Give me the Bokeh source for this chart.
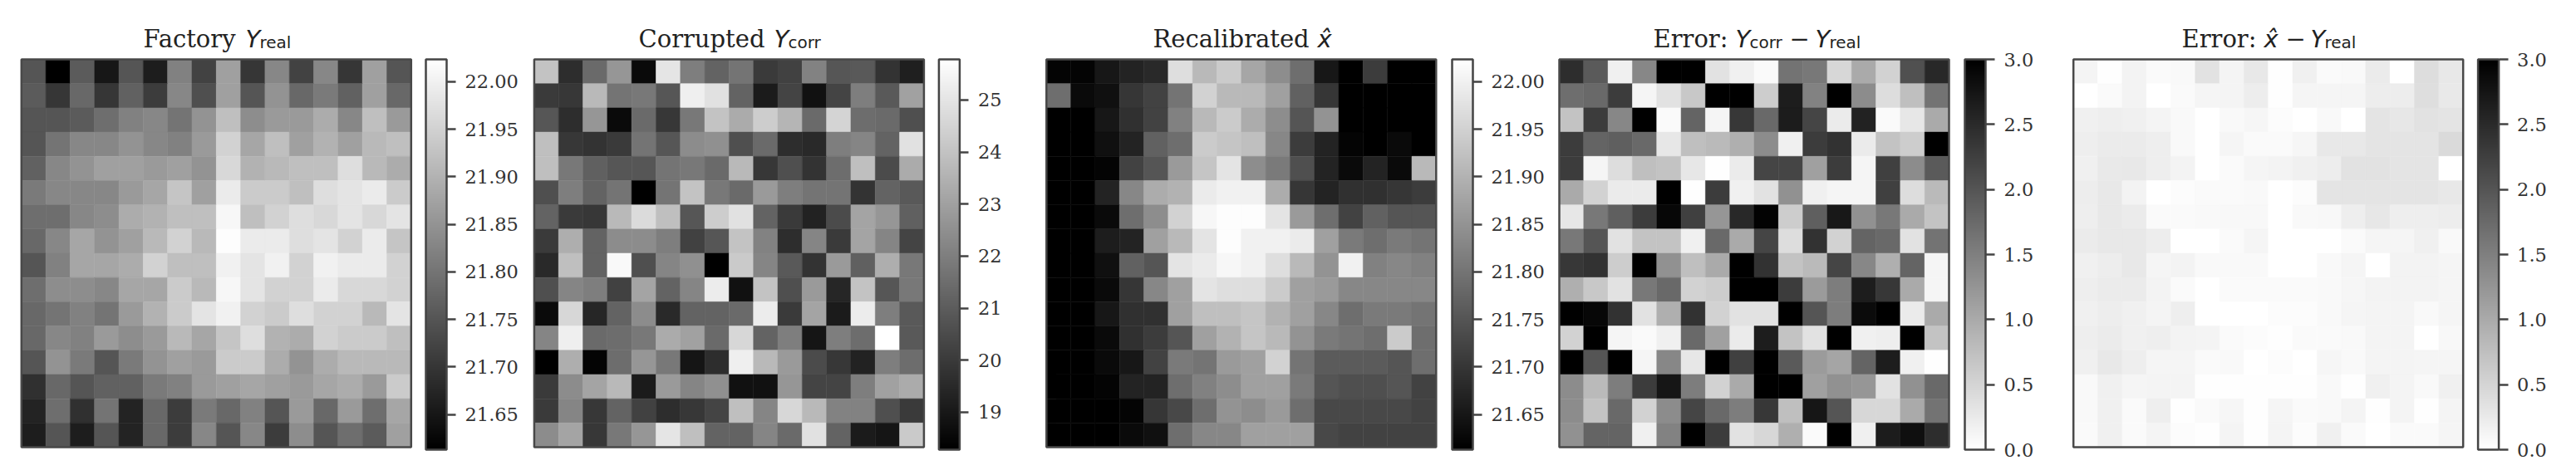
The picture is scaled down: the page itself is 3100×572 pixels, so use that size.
from bokeh.plotting import figure
from bokeh.layouts import row
from bokeh.models import ColorBar, LinearColorMapper, FixedTicker, PrintfTickFormatter, Label, Range1d, ColumnDataSource
from bokeh.palettes import Greys256
from bokeh.embed import file_html
from bokeh.resources import INLINE

factory_real = [
[21.75,21.61,21.76,21.65,21.75,21.66,21.82,21.72,21.87,21.70,21.83,21.72,21.83,21.70,21.87,21.75],
[21.76,21.70,21.78,21.70,21.77,21.71,21.83,21.74,21.87,21.75,21.85,21.78,21.81,21.77,21.87,21.78],
[21.75,21.75,21.76,21.79,21.82,21.83,21.80,21.85,21.92,21.84,21.86,21.86,21.89,21.83,21.92,21.86],
[21.75,21.80,21.83,21.83,21.85,21.83,21.82,21.86,21.95,21.88,21.92,21.87,21.90,21.87,21.91,21.92],
[21.77,21.83,21.85,21.87,21.87,21.86,21.87,21.85,21.96,21.90,21.91,21.92,21.92,21.97,21.91,21.89],
[21.81,21.83,21.83,21.83,21.86,21.88,21.93,21.87,21.99,21.94,21.94,21.92,21.97,21.98,21.99,21.94],
[21.79,21.79,21.83,21.84,21.89,21.90,21.92,21.92,22.01,21.92,21.95,21.97,21.96,21.98,21.96,21.98],
[21.78,21.83,21.88,21.85,21.87,21.91,21.95,21.91,22.02,21.99,21.99,21.97,21.98,21.95,21.99,21.93],
[21.75,21.82,21.88,21.88,21.89,21.95,21.92,21.92,22.00,21.98,22.00,21.95,22.00,21.99,21.99,21.95],
[21.79,21.84,21.84,21.83,21.88,21.88,21.94,21.91,22.01,21.98,21.95,21.95,21.99,21.96,21.96,21.95],
[21.78,21.80,21.82,21.80,21.86,21.90,21.94,21.98,22.00,21.95,21.94,21.97,21.95,21.95,21.91,21.98],
[21.78,21.83,21.82,21.86,21.84,21.86,21.91,21.88,21.93,21.97,21.90,21.89,21.95,21.94,21.94,21.92],
[21.75,21.85,21.81,21.75,21.81,21.85,21.87,21.86,21.94,21.94,21.89,21.85,21.89,21.91,21.91,21.91],
[21.69,21.78,21.75,21.77,21.77,21.81,21.82,21.86,21.87,21.88,21.87,21.86,21.88,21.89,21.86,21.94],
[21.67,21.79,21.69,21.80,21.67,21.78,21.71,21.81,21.78,21.82,21.75,21.86,21.78,21.86,21.79,21.88],
[21.66,21.75,21.66,21.75,21.67,21.78,21.71,21.83,21.75,21.83,21.71,21.84,21.75,21.79,21.76,21.87],
]
corrupted = [
[24.0,19.6,21.4,22.7,18.6,25.0,22.0,21.2,21.7,20.0,20.2,22.1,20.8,20.9,19.8,19.2],
[20.0,19.9,23.7,21.7,21.8,20.8,25.3,24.9,21.2,19.1,20.3,18.8,20.3,22.0,20.9,23.0],
[20.8,19.6,22.7,18.6,21.4,19.9,21.8,24.0,23.3,24.3,23.6,21.4,24.5,21.5,21.4,20.6],
[23.9,19.9,19.8,20.0,21.7,20.8,22.4,22.5,20.6,21.4,19.6,19.5,22.0,22.2,21.2,24.9],
[23.9,21.8,21.1,20.8,20.8,21.7,21.8,21.4,23.7,19.9,20.6,19.8,21.5,23.9,20.5,23.3],
[20.6,22.0,21.2,21.7,18.3,21.7,24.0,21.8,21.4,22.8,22.0,21.7,21.7,19.8,21.2,20.9],
[21.2,20.0,19.9,23.7,24.7,23.9,20.8,24.3,24.9,21.2,20.0,19.3,20.5,23.1,22.7,21.1],
[20.0,23.4,21.2,22.4,22.4,22.0,20.2,20.8,24.0,22.1,19.6,22.2,20.0,23.1,22.2,20.3],
[19.5,23.9,21.2,25.6,20.6,22.2,22.5,18.3,24.2,22.2,20.9,19.8,22.8,21.1,23.4,21.8],
[20.6,22.2,22.0,20.2,23.1,21.2,22.2,25.2,18.8,24.0,20.6,22.8,19.4,24.0,20.8,21.8],
[18.6,24.6,19.4,21.2,22.4,19.5,21.2,21.2,21.4,25.2,20.0,23.1,19.1,25.2,22.0,20.9],
[22.2,25.3,21.4,21.5,21.8,23.3,23.0,21.4,24.6,21.2,22.0,18.9,22.0,21.5,25.8,20.9],
[18.3,23.4,18.4,21.5,22.7,21.8,18.9,19.6,25.3,23.7,22.8,20.5,19.9,19.3,22.0,21.5],
[20.0,22.4,23.1,23.7,19.1,22.8,22.2,22.5,18.8,18.8,22.7,20.3,20.3,22.0,23.0,23.3],
[20.0,22.2,19.9,21.2,20.2,19.6,19.9,20.3,23.9,22.2,24.6,23.7,22.1,22.1,20.6,20.0],
[22.4,23.1,19.9,21.8,22.7,25.0,23.9,21.2,21.2,22.2,21.4,24.9,21.2,19.1,18.9,24.2],
]
recalibrated = [
[21.62,21.62,21.65,21.67,21.68,21.97,21.91,21.94,21.88,21.84,21.79,21.65,21.61,21.71,21.61,21.61],
[21.79,21.63,21.64,21.70,21.72,21.80,21.95,21.91,21.91,21.87,21.77,21.70,21.61,21.61,21.61,21.61],
[21.61,21.61,21.65,21.69,21.72,21.82,21.91,21.94,21.89,21.84,21.75,21.85,21.61,21.61,21.61,21.61],
[21.61,21.61,21.64,21.67,21.77,21.79,21.94,21.93,21.92,21.83,21.71,21.67,21.62,21.61,21.63,21.61],
[21.61,21.61,21.62,21.72,21.75,21.86,21.93,21.98,21.84,21.81,21.74,21.67,21.63,21.67,21.63,21.91],
[21.61,21.61,21.67,21.83,21.89,21.90,21.99,22.00,22.00,21.89,21.70,21.67,21.69,21.69,21.70,21.71],
[21.61,21.61,21.63,21.79,21.84,21.95,22.01,22.02,22.02,21.98,21.86,21.79,21.72,21.77,21.75,21.75],
[21.61,21.61,21.66,21.67,21.87,21.91,21.98,22.02,22.00,22.00,21.99,21.87,21.81,21.79,21.81,21.80],
[21.61,21.61,21.64,21.77,21.75,21.98,21.99,22.01,22.00,21.97,21.91,21.85,22.00,21.82,21.83,21.82],
[21.61,21.61,21.63,21.70,21.83,21.87,21.98,21.97,21.97,21.94,21.87,21.86,21.83,21.83,21.83,21.83],
[21.61,21.61,21.65,21.69,21.69,21.87,21.92,21.92,21.93,21.90,21.87,21.83,21.79,21.81,21.81,21.80],
[21.61,21.61,21.63,21.69,21.71,21.75,21.87,21.90,21.93,21.91,21.85,21.81,21.80,21.79,21.94,21.79],
[21.61,21.61,21.63,21.65,21.72,21.81,21.80,21.86,21.87,21.95,21.80,21.76,21.76,21.76,21.75,21.79],
[21.61,21.61,21.62,21.67,21.67,21.79,21.82,21.84,21.87,21.87,21.81,21.75,21.74,21.74,21.75,21.72],
[21.61,21.61,21.61,21.62,21.70,21.73,21.79,21.85,21.84,21.86,21.79,21.73,21.73,21.73,21.73,21.72],
[21.61,21.61,21.61,21.63,21.64,21.79,21.83,21.83,21.87,21.87,21.87,21.73,21.72,21.72,21.72,21.72],
]
error_corr = [
[2.47,1.94,0.18,1.41,3.0,3.0,0.35,0.18,0.06,1.65,1.59,0.47,1.0,0.53,2.06,2.53],
[1.71,1.76,2.29,0.12,0.35,0.65,3.0,3.0,0.59,2.65,1.47,3.0,1.35,0.41,0.76,1.65],
[0.71,2.29,1.41,3.0,0.06,1.82,0.12,2.35,1.76,2.67,2.18,0.24,2.59,0.06,0.29,1.0],
[2.29,1.82,1.88,1.76,0.29,0.76,0.82,0.94,1.35,0.18,2.29,2.41,0.24,0.71,0.59,3.0],
[2.29,0.12,0.41,0.76,0.71,0.29,0.02,0.24,2.18,2.18,1.12,2.29,0.12,2.24,1.35,1.94],
[1.0,0.53,0.24,0.24,3.0,0.02,2.29,0.18,0.35,1.29,0.18,0.12,0.12,2.24,0.41,0.82],
[0.29,1.59,1.88,2.29,2.91,2.24,1.24,2.53,2.96,0.59,1.88,2.71,1.29,1.59,1.0,0.71],
[1.59,2.0,0.35,0.71,0.71,0.18,1.76,1.0,2.18,0.41,2.41,0.53,1.82,1.76,0.35,1.65],
[2.35,2.41,0.59,3.0,1.29,0.76,1.0,3.0,2.41,0.71,0.82,2.18,1.41,0.94,1.82,0.12],
[0.94,0.65,0.35,1.59,1.76,0.53,0.59,3.0,3.0,2.29,1.18,1.53,2.65,2.35,1.0,0.12],
[3.0,2.91,2.41,0.35,0.94,2.41,0.53,0.35,0.35,3.0,2.0,1.53,2.86,3.0,0.24,1.0],
[0.53,3.0,0.12,0.06,0.18,1.76,1.12,0.24,2.65,0.71,0.35,3.0,0.18,0.2,3.0,0.71],
[3.0,2.0,3.0,0.12,1.41,0.29,3.0,2.24,3.0,1.94,1.18,1.06,1.82,2.65,0.18,0.02],
[1.35,0.82,1.53,2.29,2.74,1.53,0.53,1.0,3.0,3.0,1.12,1.29,1.24,0.35,1.29,1.76],
[1.35,0.71,1.76,0.53,1.35,2.18,1.76,1.53,2.35,0.76,2.74,2.0,0.47,0.47,1.0,1.65],
[1.29,1.82,1.82,0.18,1.47,3.0,2.29,0.35,0.47,0.94,0.06,3.0,0.18,2.67,2.82,2.47],
]
error_recal = [
[.14,.02,.15,.06,.08,.35,.14,.27,.02,.18,.06,.08,.24,0,.41,.27],
[0,.06,.15,0,.06,.12,.14,.22,.02,.12,.12,.12,.22,.22,.39,.26],
[.18,.2,.18,.14,.08,0,.08,.11,.04,0,.08,0,.32,.29,.35,.32],
[.2,.24,.24,.2,.08,0,.12,.06,.06,.11,.27,.27,.32,.32,.32,.44],
[.18,.26,.27,.2,.15,0,.06,.12,.15,.18,.22,.35,.35,.32,.32,0],
[.22,.27,.15,0,.04,.06,.06,.08,0,.04,.32,.32,.32,.32,.32,.27],
[.2,.27,.24,.06,.06,.08,.09,.09,0,.08,.09,.2,.29,.2,.2,.22],
[.24,.27,.27,.22,0,0,.06,.12,0,0,0,.06,.12,.12,.18,.08],
[.18,.22,.27,.12,.15,.08,.08,.08,0,0,.08,.12,0,.15,.15,.12],
[.2,.24,.24,.15,.06,0,.06,.06,.06,.06,.08,.11,.15,.15,.15,.12],
[.18,.22,.18,.14,.2,0,0,0,.04,.04,.08,.12,.14,.14,.08,.12],
[.2,.24,.18,.2,.15,.14,.06,.04,.02,.06,.06,.08,.14,.14,0,.09],
[.18,.27,.2,.12,.12,.06,.08,0,.04,0,.11,.08,.14,.14,.12,.12],
[.08,.18,.12,.14,.14,.02,.02,.02,.02,.02,.08,.02,.18,.14,.08,.18],
[.08,.18,.06,.2,.02,.06,.11,.02,.12,.06,.08,.14,.02,.14,.02,.14],
[.06,.18,.06,.14,.04,.02,.14,.02,.14,.04,.18,.06,0,.06,.06,.12],
]
yreal_ticks = [21.65, 21.70, 21.75, 21.80, 21.85, 21.90, 21.95, 22.00]
ycorr_ticks = [19, 20, 21, 22, 23, 24, 25]
error_ticks = [0.0, 0.5, 1.0, 1.5, 2.0, 2.5, 3.0]

SERIF, SANS = "DejaVu Serif", "DejaVu Sans"
FS, SUB = "29px", "20px"
main = lambda t, x: (t, x, SERIF, "normal", FS, 0)
it = lambda t, x: (t, x, SANS, "italic", FS, 0)
rm = lambda t, x: (t, x, SANS, "normal", FS, 0)
sub = lambda t, x: (t, x, SANS, "normal", SUB, -4)

panels = [
    dict(z=factory_real, lo=21.613, hi=22.0235, pal=Greys256, ticks=yreal_ticks, fmt="%.2f",
         fig=(0, 632), heat=25.3, bar=512.0,
         title=[main("Factory", 172), it("Y", 295), sub("real", 312)]),
    dict(z=corrupted, lo=18.28, hi=25.78, pal=Greys256, ticks=ycorr_ticks, fmt="%d",
         fig=(632, 1245), heat=642.4, bar=1129.4,
         title=[main("Corrupted", 768), it("Y", 931), sub("corr", 948)]),
    dict(z=recalibrated, lo=21.613, hi=22.0235, pal=Greys256, ticks=yreal_ticks, fmt="%.2f",
         fig=(1245, 1865), heat=1258.8, bar=1747.0,
         title=[main("Recalibrated", 1387), it("x\u0302", 1585)]),
    dict(z=error_corr, lo=0, hi=3, pal=tuple(reversed(Greys256)), ticks=error_ticks, fmt="%.1f",
         fig=(1865, 2478), heat=1876.0, bar=2364.0,
         title=[main("Error:", 1989), it("Y", 2088), sub("corr", 2105), rm("\u2212", 2153), it("Y", 2184), sub("real", 2201)]),
    dict(z=error_recal, lo=0, hi=3, pal=tuple(reversed(Greys256)), ticks=error_ticks, fmt="%.1f",
         fig=(2478, 3100), heat=2494.7, bar=2981.6,
         title=[main("Error:", 2625), it("x\u0302", 2724), rm("\u2212", 2750), it("Y", 2780), sub("real", 2797)]),
]

H, HEAT_W, HEAT_H, HEAT_TOP, BASELINE = 556, 469, 467, 71, 46
figs = []
for P in panels:
    x0, x1 = P["fig"]
    w = x1 - x0
    mapper = LinearColorMapper(palette=P["pal"], low=P["lo"], high=P["hi"])
    cells = {"x": [], "y": [], "v": []}
    for r, vals in enumerate(P["z"]):
        for c, v in enumerate(vals):
            cells["x"].append(c + 0.5)
            cells["y"].append(r + 0.5)
            cells["v"].append(v)
    ux, uy = 16 / HEAT_W, 16 / HEAT_H
    left = P["heat"] - x0
    p = figure(width=w, height=H, frame_width=w, frame_height=H,
               x_range=Range1d(-left * ux, (w - left) * ux),
               y_range=Range1d((H - HEAT_TOP) * uy, -HEAT_TOP * uy),
               x_axis_type=None, y_axis_type=None, output_backend="svg", toolbar_location=None,
               min_border=0, outline_line_color=None)
    p.grid.visible = False
    fill = {"field": "v", "transform": mapper}
    p.rect("x", "y", 1, 1, source=ColumnDataSource(cells), fill_color=fill, line_color=fill, line_width=0.5)
    p.rect([8], [8], 16, 16, fill_color=None, line_color="#484848", line_width=2.5)
    cb = ColorBar(color_mapper=mapper, location=(P["bar"] - x0, H - 541), width=25, height=470, padding=0,
                  ticker=FixedTicker(ticks=P["ticks"]), formatter=PrintfTickFormatter(format=P["fmt"]),
                  major_tick_in=0, major_tick_out=11, major_tick_line_color="#444444", major_tick_line_width=2.5,
                  minor_tick_line_color=None, bar_line_color="#444444", bar_line_width=2.5,
                  major_label_text_font=SERIF, major_label_text_font_size="22.5px",
                  major_label_text_color="#333333", label_standoff=11,
                  background_fill_alpha=0, border_line_color=None)
    p.add_layout(cb, "center")
    for text, x, font, style, size, lift in P["title"]:
        p.add_layout(Label(x=x - x0, y=H - BASELINE + lift, x_units="screen", y_units="screen", text=text,
                           text_font=font, text_font_style=style, text_font_size=size, text_color="#222222",
                           text_baseline="alphabetic", text_align="left"))
    figs.append(p)

layout = row(*figs, spacing=0)
open("out.html", "w").write(file_html(layout, INLINE))
